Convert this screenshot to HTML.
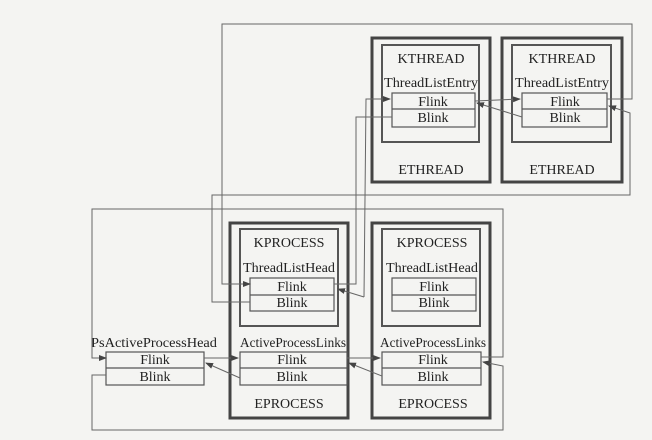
<!DOCTYPE html>
<html><head><meta charset="utf-8"><style>
body{margin:0;background:#f4f4f2;}
svg{display:block}
text{font-family:"Liberation Serif",serif;font-size:14px;fill:#222;text-anchor:middle}
.o{fill:none;stroke:#444;stroke-width:3}
.i{fill:none;stroke:#555;stroke-width:2}
.b{fill:none;stroke:#555;stroke-width:1.2}
.l{fill:none;stroke:#666;stroke-width:1}
</style></head><body>
<svg width="652" height="440" viewBox="0 0 652 440">
<defs><marker id="a" markerWidth="8" markerHeight="8" refX="7" refY="4" orient="auto" markerUnits="userSpaceOnUse"><path d="M0,1 L8,4 L0,7 Z" fill="#444"/></marker></defs>
<!-- ETHREAD 1 -->
<rect class="o" x="372" y="38" width="118" height="144"/>
<rect class="i" x="382" y="45" width="97" height="97"/>
<rect class="b" x="392" y="93" width="83" height="34"/><line class="b" x1="392" y1="109" x2="475" y2="109"/>
<text x="431" y="63">KTHREAD</text><text x="431" y="87" textLength="94" lengthAdjust="spacingAndGlyphs">ThreadListEntry</text>
<text x="433" y="106">Flink</text><text x="433" y="122">Blink</text><text x="431" y="174">ETHREAD</text>
<!-- ETHREAD 2 -->
<rect class="o" x="502" y="38" width="120" height="144"/>
<rect class="i" x="512" y="45" width="99" height="97"/>
<rect class="b" x="522" y="93" width="85" height="34"/><line class="b" x1="522" y1="109" x2="607" y2="109"/>
<text x="562" y="63">KTHREAD</text><text x="562" y="87" textLength="94" lengthAdjust="spacingAndGlyphs">ThreadListEntry</text>
<text x="565" y="106">Flink</text><text x="565" y="122">Blink</text><text x="562" y="174">ETHREAD</text>
<!-- EPROCESS 1 -->
<rect class="o" x="230" y="223" width="118" height="195"/>
<rect class="i" x="240" y="229" width="98" height="97"/>
<rect class="b" x="250" y="278" width="84" height="33"/><line class="b" x1="250" y1="295" x2="334" y2="295"/>
<rect class="b" x="240" y="352" width="107" height="33"/><line class="b" x1="240" y1="368" x2="347" y2="368"/>
<text x="289" y="247">KPROCESS</text><text x="289" y="272" textLength="92" lengthAdjust="spacingAndGlyphs">ThreadListHead</text>
<text x="292" y="291">Flink</text><text x="292" y="307">Blink</text>
<text x="293" y="347" textLength="106" lengthAdjust="spacingAndGlyphs">ActiveProcessLinks</text>
<text x="292" y="364">Flink</text><text x="292" y="381">Blink</text>
<text x="289" y="408">EPROCESS</text>
<!-- EPROCESS 2 -->
<rect class="o" x="372" y="223" width="118" height="195"/>
<rect class="i" x="382" y="229" width="98" height="97"/>
<rect class="b" x="392" y="278" width="84" height="33"/><line class="b" x1="392" y1="295" x2="476" y2="295"/>
<rect class="b" x="382" y="352" width="99" height="33"/><line class="b" x1="382" y1="368" x2="481" y2="368"/>
<text x="432" y="247">KPROCESS</text><text x="432" y="272" textLength="92" lengthAdjust="spacingAndGlyphs">ThreadListHead</text>
<text x="434" y="291">Flink</text><text x="434" y="307">Blink</text>
<text x="433" y="347" textLength="106" lengthAdjust="spacingAndGlyphs">ActiveProcessLinks</text>
<text x="433" y="364">Flink</text><text x="433" y="381">Blink</text>
<text x="433" y="408">EPROCESS</text>
<!-- PsActiveProcessHead -->
<rect class="b" x="106" y="352" width="98" height="33"/><line class="b" x1="106" y1="368" x2="204" y2="368"/>
<text x="154" y="347" textLength="126" lengthAdjust="spacingAndGlyphs">PsActiveProcessHead</text>
<text x="155" y="364">Flink</text><text x="155" y="381">Blink</text>
<!-- thread connectors -->
<path class="l" d="M607,99 L632,99 L632,24 L222,24 L222,284 L250,284" marker-end="url(#a)"/>
<path class="l" d="M250,302 L212,302 L212,195 L630,195 L630,113 L609,106" marker-end="url(#a)"/>
<path class="l" d="M475,101 L520,99" marker-end="url(#a)"/>
<path class="l" d="M522,117 L477,103" marker-end="url(#a)"/>
<path class="l" d="M364,297 L366,99 L390,99" marker-end="url(#a)"/>
<path class="l" d="M364,297 L338,289" marker-end="url(#a)"/>
<path class="l" d="M334,284 L356,284 L356,117 L392,117"/>
<!-- process connectors -->
<path class="l" d="M481,357 L503,357 L503,209 L92,209 L92,358 L106,358" marker-end="url(#a)"/>
<path class="l" d="M106,375 L92,375 L92,430 L503,430 L503,366 L483,362" marker-end="url(#a)"/>
<path class="l" d="M204,358 L238,358" marker-end="url(#a)"/>
<path class="l" d="M347,358 L380,358" marker-end="url(#a)"/>
<path class="l" d="M240,378 L206,363" marker-end="url(#a)"/>
<path class="l" d="M382,376 L349,363" marker-end="url(#a)"/>
</svg>
</body></html>
